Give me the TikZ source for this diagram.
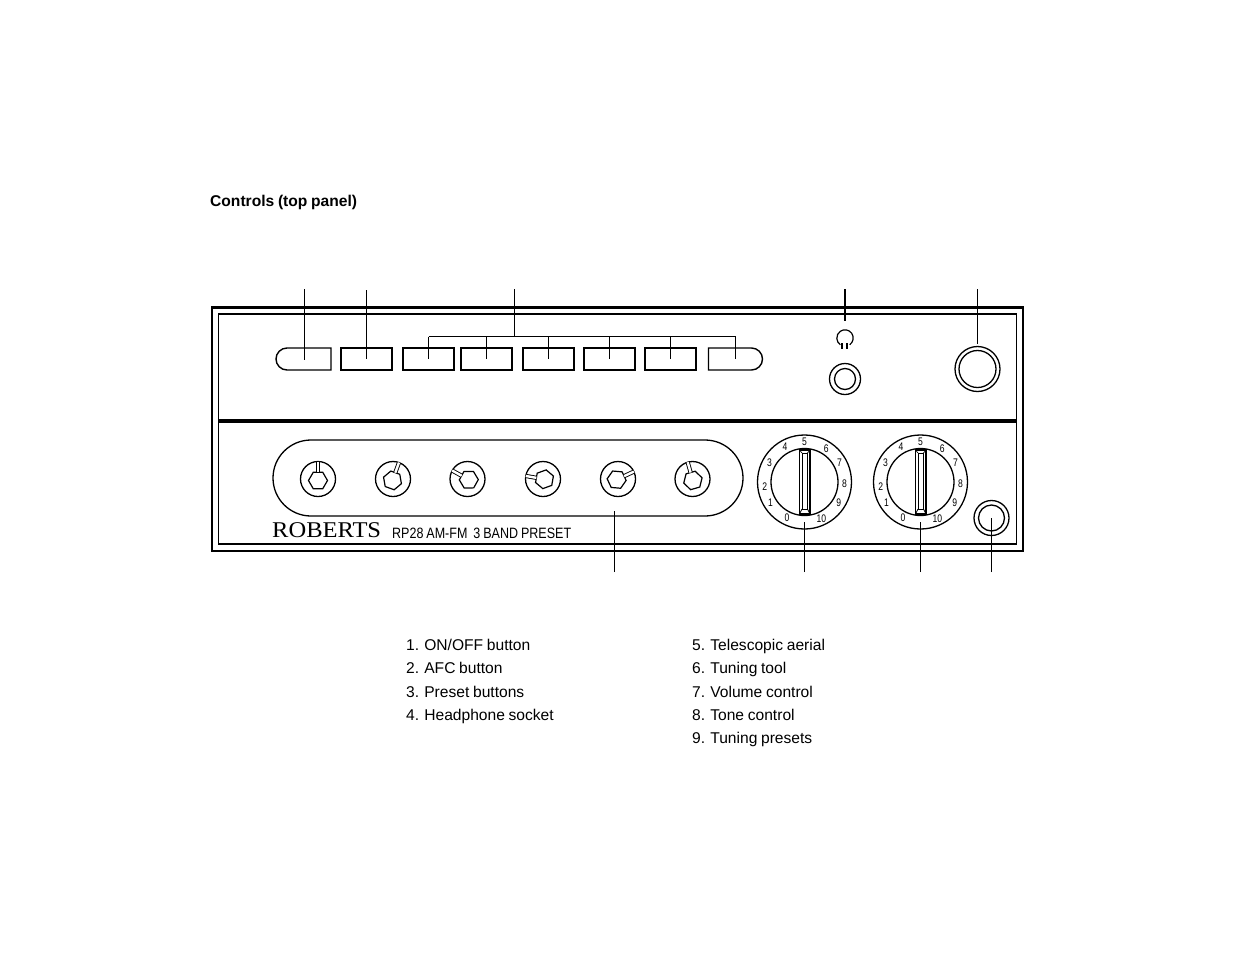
\documentclass[tikz,border=0pt]{standalone}
\usepackage{fontspec}
\setmainfont{Liberation Sans}[WordSpace=.85]
\newfontfamily\brandfont{Liberation Serif}
\usetikzlibrary{shapes.misc,shapes.geometric}
\colorlet{panelcolor}{black}

\begin{document}
\begin{tikzpicture}
  [x=1pt,y=1pt,line cap=butt,
   % Styles
   frame line/.style={draw=panelcolor,line width=1.1pt},
   leader line/.style={draw=panelcolor,line width=1pt},
   keycap/.style={rectangle,draw=panelcolor,line width=1.4pt,minimum width=51pt,minimum height=22pt,inner sep=0pt,outer sep=0pt},
   ring/.style={circle,draw=panelcolor,line width=1.3pt,inner sep=0pt,outer sep=0pt},
   hexnut/.style={regular polygon,regular polygon sides=6,draw=panelcolor,line width=1.2pt,minimum size=19pt,inner sep=0pt,outer sep=0pt},
   list text/.style={anchor=base west,inner sep=0pt,font=\fontsize{15.6}{18}\selectfont},
   scale mark/.style={inner sep=0pt,xscale=.78,font=\fontsize{11}{12}\selectfont}]

  \useasboundingbox (0,0) rectangle (1235,-954);

  \node[anchor=base west,inner sep=0pt,font=\fontsize{15.6}{18}\selectfont\bfseries] (title) at (210,-206) {Controls (top panel)};

  % The cabinet
  \draw[draw=panelcolor,line width=2.6pt] (212,-307.5) rectangle (1023,-551);
  \draw[frame line] (218.5,-314) rectangle (1016.5,-544);
  \draw[draw=panelcolor,line width=3.6pt] (218.5,-421) -- (1016.5,-421);

  % Top row of buttons
  \node[keycap,rounded rectangle,rounded rectangle east arc=none,minimum width=55pt] (onoff) at (303.5,-359) {};
  \node[keycap] (afc) at (366.5,-359) {};
  \foreach \bx/\bname in {428.5/presetA,486.5/presetB,548.5/presetC,609.5/presetD,670.5/presetE}
    \node[keycap] (\bname) at (\bx,-359) {};
  \node[keycap,rounded rectangle,rounded rectangle west arc=none,minimum width=54pt] (presetF) at (735.5,-359) {};

  % Headphone socket and aerial
  \draw[line width=1.2pt] ([shift={(-55:8.2)}]845,-338) arc [start angle=-55,end angle=235,radius=8.2];
  \draw[line width=1.8pt] (841.7,-343.3) -- (841.7,-349.3) (847.3,-343.3) -- (847.3,-349.3);
  \node[ring,minimum size=31pt] (jack) at (845,-379) {};
  \node[ring,minimum size=21pt] (jackin) at (845,-379) {};
  \node[ring,minimum size=45pt] (aerial) at (977.5,-369) {};
  \node[ring,minimum size=37pt] (aerialin) at (977.5,-369) {};

  % Tuning presets
  \node[rounded rectangle,draw=panelcolor,line width=1.3pt,minimum width=470pt,minimum height=76pt,inner sep=0pt] (tray) at (508,-478) {};
  \foreach \kx/\kangle/\kname in {318/90/a,393/70/b,467.5/151/c,543/170/d,618/25/e,692.5/106/f}
  {
    \node[ring,minimum size=35pt] (knob\kname) at (\kx,-479) {};
    \pgfmathsetmacro\hexturn{\kangle-90}
    \node[hexnut,shape border rotate=\hexturn] (hex\kname) at ([shift={(\kangle+180:1.5)}]knob\kname.center) {};
    \draw[double=white,double distance=2.4pt,line width=.9pt] (knob\kname.\kangle) -- (hex\kname.\kangle);
  }

  % Volume and tone dials
  \foreach \dx/\dname in {804.5/volume,920.5/tone}
  {
    \node[ring,minimum size=94pt] (\dname) at (\dx,-482) {};
    \node[ring,minimum size=67pt] (\dname in) at (\dx,-482) {};
    \foreach \mangle/\mtext in {244/0,212/1,186/2,151/3,119/4,90/5,57/6,29/7,-3/8,-31/9,-65/10}
      \node[scale mark] (\dname\mtext) at ([shift={(\mangle:40)}]\dname.center) {\mtext};
    \draw[fill=white,line width=1.1pt] (\dx-5,-450) rectangle (\dx+5.5,-514);
    \draw[line width=.9pt] (\dx-2.5,-453) rectangle (\dx+3,-509);
    \draw[line width=.7pt] (\dx-5,-450) -- (\dx-2.5,-453) (\dx+5.5,-450) -- (\dx+3,-453)
      (\dx-5,-514) -- (\dx-2.5,-509) (\dx+5.5,-514) -- (\dx+3,-509);
  }

  \node[ring,minimum size=35pt] (socket) at (991.5,-518) {};
  \node[ring,minimum size=26pt] (socketin) at (991.5,-518) {};

  % Brand line
  \node[anchor=base west,inner sep=0pt,xscale=1.09,font=\fontsize{22.5}{24}\brandfont] (brand) at (272,-537) {ROBERTS};
  \node[anchor=base west,inner sep=0pt,xscale=.835,font=\fontsize{15}{18}\selectfont] (model) at (392,-538) {RP28 AM-FM\ \ 3 BAND PRESET};

  % Free ends of the leaders
  \foreach \lname/\lx/\ly in {topA/304.5/-289,topB/366.5/-290,topC/514.5/-289,topD/845/-289,topE/977.5/-289,
    comb/514.5/-336.5,combL/428.5/-336.5,combR/735.5/-336.5,stubA/304.5/-360,
    botA/614.5/-572,botB/804.5/-572,botC/920.5/-572,botD/991.5/-572,
    endA/614.5/-511,endB/804.5/-522,endC/920.5/-522,endD/845/-321,endE/977.5/-344}
    \coordinate (\lname) at (\lx,\ly);

  % Leaders
  \draw[leader line] (topA) -- (stubA);
  \draw[leader line] (topB) -- (afc.center);
  \draw[leader line] (topC) -- (comb);
  \draw[leader line] (combL) -- (combR);
  \foreach \dropx/\dropname in {428.5/presetA,486.5/presetB,548.5/presetC,609.5/presetD,670.5/presetE,735.5/presetF}
    \draw[leader line] (\dropx,-336.5) -- (\dropname.center);
  \draw[leader line,line width=2pt] (topD) -- (endD);
  \draw[leader line] (topE) -- (endE);
  \draw[leader line] (botA) -- (endA);
  \draw[leader line] (botB) -- (endB);
  \draw[leader line] (botC) -- (endC);
  \draw[leader line] (botD) -- (socket.center);

  % Key to the numbers
  \foreach \ly/\ltext [count=\li] in {645/{1. ON/OFF button},668/2. AFC button,692/3. Preset buttons,715/4. Headphone socket}
    \node[list text] (keyL\li) at (406,-\ly-5) {\ltext};
  \foreach \ly/\ltext [count=\li] in {645/5. Telescopic aerial,668/6. Tuning tool,692/7. Volume control,715/8. Tone control,738/9. Tuning presets}
    \node[list text] (keyR\li) at (692,-\ly-5) {\ltext};
\end{tikzpicture}
\end{document}
